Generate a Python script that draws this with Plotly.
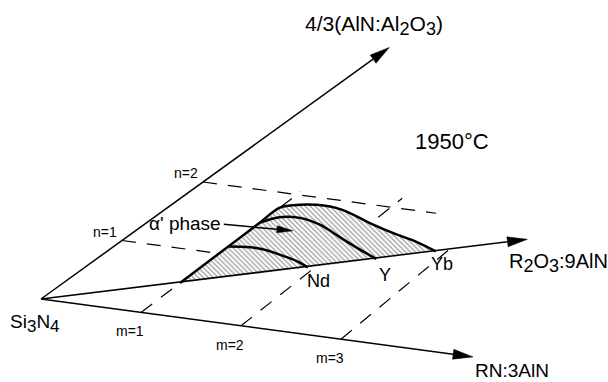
import numpy as np
import plotly.graph_objects as go

# ---------------- data (composition plane coordinates m, n) ----------------
n_ticks = [1, 2]
n_tick_labels = ["n=1", "n=2"]
m_ticks = [1, 2, 3]
m_tick_labels = ["m=1", "m=2", "m=3"]

n_axis_end = 4.3          # 4/3(AlN:Al2O3) axis, along m = 0
m_axis_end = 4.32         # RN:3AlN axis, along n = 0
r_axis_end = 3.6          # R2O3:9AlN axis, along n = m/2
r_ratio = 0.5

n_line_m_end = [1.0, 2.48]        # extent of dashed n = const lines
m_line_n_end = [2.05, 2.15, 1.6]  # extent of dashed m = const lines

# alpha' phase boundaries
yb_m = [1.0, 1.0, 1.0, 1.0, 1.09, 1.30, 1.58, 1.99, 2.35, 2.62, 2.9]
yb_n = [0.5, 1.0, 1.5, 1.78, 1.84, 1.89, 1.87, 1.73, 1.62, 1.55, 1.45]
y_m = [1.0, 1.11, 1.30, 1.56, 1.88, 2.15, 2.45]
y_n = [1.52, 1.64, 1.67, 1.61, 1.47, 1.35, 1.225]
nd_m = [1.0, 1.20, 1.38, 1.59, 1.77, 1.94]
nd_n = [1.12, 1.15, 1.14, 1.09, 1.04, 0.97]
elements = ["Nd", "Y", "Yb"]
element_m = [1.94, 2.45, 2.9]

phase_arrow_m = [0.70, 1.39]
phase_arrow_n = [1.43, 1.47]

# ---------------- projection of the (m, n) plane onto the page ----------------
O = (41.0, 299.0)
MV = (100.0, 13.4)
NV = (81.0, -58.5)
DV = (-3.0, -0.4)


def P(m, n):
    m = np.asarray(m, float)
    n = np.asarray(n, float)
    x = O[0] + m * MV[0] + n * NV[0] + m * n * DV[0]
    y = O[1] + m * MV[1] + n * NV[1] + m * n * DV[1]
    return x, y


FONT = "Liberation Sans, Arial, Helvetica, sans-serif"
fig = go.Figure()


def line(xs, ys, width=1.5, dash="solid", shape="linear"):
    fig.add_trace(go.Scatter(x=list(np.atleast_1d(xs)), y=list(np.atleast_1d(ys)),
                             mode="lines", line=dict(color="black", width=width,
                                                     dash=dash, shape=shape),
                             hoverinfo="skip", showlegend=False))


def arrow(x0, y0, x1, y1, width=1.5, L=20.0, W=5.0):
    d = np.array([x1 - x0, y1 - y0], float)
    d /= np.hypot(*d)
    p = np.array([-d[1], d[0]])
    tip = np.array([x1, y1], float)
    base = tip - L * d
    line([x0, base[0]], [y0, base[1]], width=width)
    pts = [tip, base + W * p, base - W * p, tip]
    fig.add_trace(go.Scatter(x=[q[0] for q in pts], y=[q[1] for q in pts],
                             mode="lines", fill="toself", fillcolor="black",
                             line=dict(color="black", width=0.5),
                             hoverinfo="skip", showlegend=False))


DASH = "14px,11px"

# dashed grid lines
for n, mend in zip(n_ticks, n_line_m_end):
    x, y = P([0, mend], [n, n])
    line(x, y, width=1.2, dash=DASH)
for m, nend in zip(m_ticks, m_line_n_end):
    x, y = P([m, m], [0, nend])
    line(x, y, width=1.2, dash=DASH)

# hatched alpha' region
r_back_m = [2.86, 2.3, 1.6, 1.04, 1.0]
fx, fy = P(yb_m + r_back_m, yb_n + [r_ratio * v for v in r_back_m])
fig.add_trace(go.Scatter(x=list(fx), y=list(fy), mode="lines", fill="toself",
                         line=dict(color="rgba(0,0,0,0)", width=0, shape="spline"),
                         fillcolor="white",
                         fillpattern=dict(shape="\\", fgcolor="#111", bgcolor="white",
                                          size=3.5, solidity=0.3),
                         hoverinfo="skip", showlegend=False))

# axes with arrow heads
tx, ty = P(0, n_axis_end)
arrow(O[0], O[1], float(tx), float(ty))
rx, ry = P(r_axis_end, r_ratio * r_axis_end)
arrow(O[0], O[1], float(rx), float(ry))
bx, by = P(m_axis_end, 0)
arrow(O[0], O[1], float(bx), float(by))

# phase boundaries
for cm, cn in [(yb_m, yb_n), (y_m, y_n), (nd_m, nd_n)]:
    x, y = P(cm, cn)
    line(x, y, width=2.5, shape="spline")

# alpha' phase pointer
ax_, ay_ = P(phase_arrow_m, phase_arrow_n)
arrow(float(ax_[0]), float(ay_[0]), float(ax_[1]), float(ay_[1]), width=1.5, L=16, W=3.5)

# ---------------- text ----------------


def sub(d, size):
    return f"<sub><span style='font-size:{size}px'>{d}</span></sub>"


def label(x, y, text, size, xanchor="center", yanchor="middle", xshift=0, yshift=0):
    fig.add_annotation(x=float(x), y=float(y), text=text, showarrow=False,
                       xanchor=xanchor, yanchor=yanchor, xshift=xshift, yshift=yshift,
                       font=dict(family=FONT, size=size, color="black"))


for n, t in zip(n_ticks, n_tick_labels):
    x, y = P(0, n)
    label(x, y, t, 14, xanchor="right", xshift=-3, yshift=9)
for m, t in zip(m_ticks, m_tick_labels):
    x, y = P(m, 0)
    label(x, y, t, 14, xshift=-11, yshift=-19)

label(tx, ty, "4/3(AlN:Al" + sub("2", 18) + "O" + sub("3", 18) + ")", 21,
      xshift=-15, yshift=22)
label(rx, ry, "R" + sub("2", 18) + "O" + sub("3", 18) + ":9AlN", 20,
      xanchor="left", xshift=-20, yshift=-24)
label(bx, by, "RN:3AlN", 19, xanchor="left", xshift=0, yshift=-14)
label(O[0], O[1], "Si" + sub("3", 17) + "N" + sub("4", 17), 19, xshift=-6, yshift=-24)

el_shift = [(11, -13), (9, -16), (6, -13)]
for e, m, (xs, ys) in zip(elements, element_m, el_shift):
    x, y = P(m, r_ratio * m)
    label(x, y, e, 18, xshift=xs, yshift=ys)

label(ax_[0], ay_[0], "α' phase", 19, xanchor="right", xshift=-1, yshift=1)
label(452, 141, "1950°C", 22)

fig.update_layout(
    width=608, height=382,
    margin=dict(l=0, r=0, t=0, b=0),
    paper_bgcolor="white", plot_bgcolor="white",
    xaxis=dict(range=[0, 608], visible=False, fixedrange=True),
    yaxis=dict(range=[382, 0], visible=False, fixedrange=True),
    showlegend=False, hovermode=False,
)

fig.write_html("out.html")
